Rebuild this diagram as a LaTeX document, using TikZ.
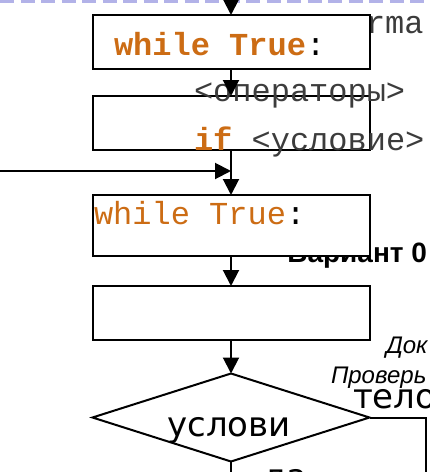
\documentclass[tikz,border=0pt]{standalone}
\usepackage{fontspec}
\usepackage{xcolor}
\usepackage{tikz}
\usetikzlibrary{arrows.meta, shapes.geometric, positioning}
\newfontfamily\codefont{Liberation Mono}
\newfontfamily\boxfont{DejaVu Sans}
\newfontfamily\slidefont{Liberation Sans}
\definecolor{kworange}{RGB}{204,108,20}
\definecolor{dashblue}{RGB}{178,178,232}
\definecolor{codegray}{RGB}{60,60,60}

\begin{document}
\begin{tikzpicture}[x=1pt, y=-1pt, line width=2pt,
    >={Triangle[length=16pt, width=16pt]},
    blockbox/.style={draw, fill=white, minimum width=277pt, minimum height=54pt,
        inner sep=0pt, outer sep=0pt},
    condbox/.style={draw, fill=white, diamond, minimum width=277pt,
        minimum height=88pt, inner sep=0pt, outer sep=0pt},
    code/.style={anchor=base west, inner sep=0pt, text=codegray,
        font=\codefont\fontsize{32}{36}\selectfont},
    bigtext/.style={anchor=base west, inner sep=0pt,
        font=\boxfont\fontsize{34}{40}\selectfont},
    slidenote/.style={anchor=base west, inner sep=0pt,
        font=\slidefont\itshape\fontsize{24}{28}\selectfont}]
    \clip (0,0) rectangle (430,472);
    % 1. Đường nét đứt phía trên
    \draw[dashblue, line width=3pt, dash pattern=on 14pt off 6.5pt] (0,1) -- (430,1);

    % 2. Chữ nằm dưới các khối
    \node[code] (rmatext) at (365,33) {rma};
    \node[anchor=base east, inner sep=0pt,
        font=\slidefont\bfseries\fontsize{28}{32}\selectfont] (varianttext) at (428,262) {Вариант 0};

    % 3. Các khối
    \node[blockbox] (loopbox) at (231,42) {};
    \node[blockbox] (opsbox) at (231,123) {};
    \node[blockbox, minimum height=61pt] (whilebox) at (231,225.5) {};
    \node[blockbox] (bodybox) at (231,313) {};
    \node[condbox] (cond) at (231,417.5) {};

    % 4. Chữ trong khối
    \node[code, text=kworange] (looptext) at (113,55) {\textbf{while True}\textcolor{black}{:}};
    \node[code] (opstext) at (193,101) {<операторы>};
    \node[code] (iftext) at (193,150) {\textcolor{kworange}{\textbf{if}} <условие>};
    \node[code, text=kworange] (whiletext) at (93,224) {while True\textcolor{black}{:}};
    \node[anchor=base, inner sep=0pt,
        font=\boxfont\fontsize{34}{40}\selectfont] (condtext) at (229,436) {услови};
    \node[slidenote] (doktext) at (385,353) {Док};
    \node[slidenote] (checktext) at (330,383) {Проверь};
    \node[bigtext] (bodytext) at (352,408) {тело};
    \node[bigtext] (yestext) at (262,488) {да};

    % 5. Mũi tên
    \coordinate (topin) at (231,-20);
    \coordinate (leftin) at (0,171);
    \coordinate (merge) at (231,171);
    \coordinate (rightout) at (426,480);
    \coordinate (yesout) at (231,480);
    \draw[->] (topin) -- (loopbox.north);
    \draw[->] (loopbox.south) -- (opsbox.north);
    \draw[->] (opsbox.south) -- (whilebox.north);
    \draw[->] (leftin) -- (merge);
    \draw[->] (whilebox.south) -- (bodybox.north);
    \draw[->] (bodybox.south) -- (cond.north);
    \draw (cond.east) -| (rightout);
    \draw (cond.south) -- (yesout);
\end{tikzpicture}
\end{document}
